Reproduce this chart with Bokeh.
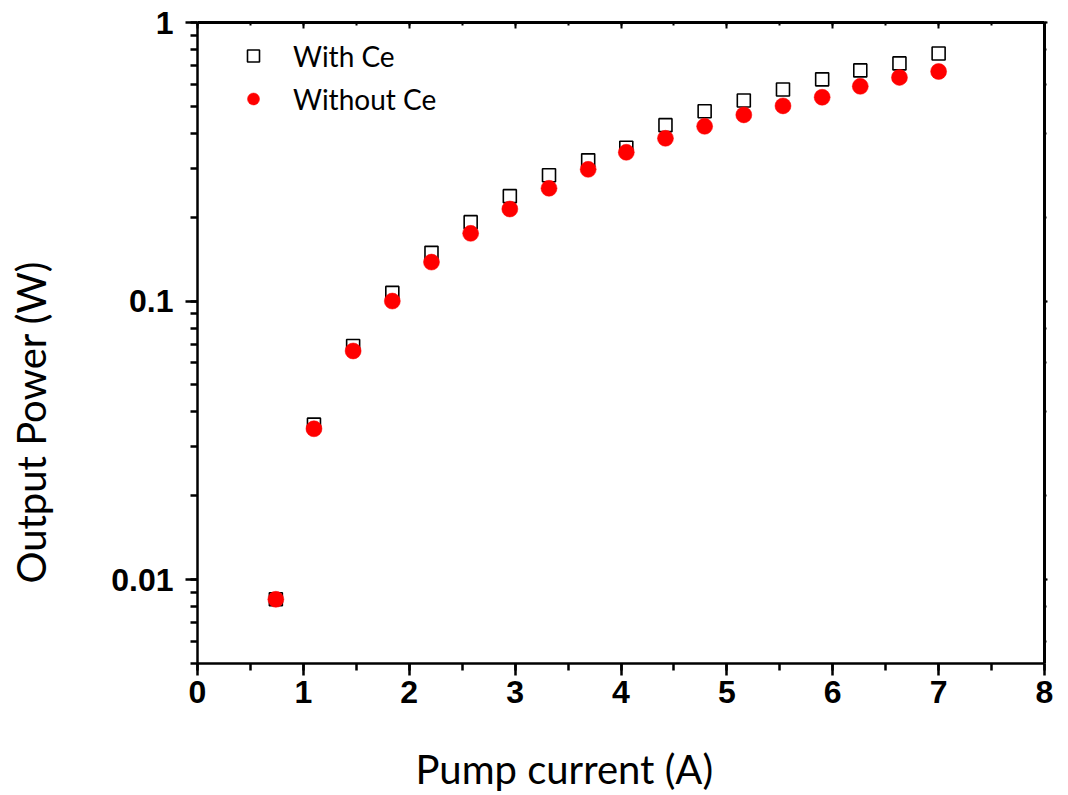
import numpy as np
from bokeh.plotting import figure
from bokeh.models import (LinearAxis, LogAxis, Range1d, Title, Legend, LegendItem, FixedTicker,
                          SingleIntervalTicker, CustomJSTickFormatter, ColumnDataSource)
from bokeh.embed import file_html
from bokeh.resources import INLINE

# ---- data ----
pump_current = [0.74, 1.10, 1.47, 1.84, 2.21, 2.58, 2.95, 3.32, 3.69, 4.05,
                4.42, 4.79, 5.16, 5.53, 5.90, 6.26, 6.63, 7.00]
power_with_ce = [0.0085, 0.036, 0.069, 0.107, 0.149, 0.192, 0.238, 0.283, 0.320, 0.355,
                 0.428, 0.480, 0.525, 0.575, 0.625, 0.673, 0.713, 0.774]
power_without_ce = [0.0085, 0.0348, 0.0662, 0.100, 0.138, 0.175, 0.214, 0.254, 0.297, 0.342,
                    0.384, 0.424, 0.466, 0.502, 0.539, 0.590, 0.635, 0.667]
x_label = "Pump current (A)"
y_label = "Output Power (W)"
series_names = ["With Ce", "Without Ce"]

LABEL_FONT = "Lato"
TICK_FONT = "Liberation Sans"

p = figure(width=1068, height=795, y_axis_type="log",
           x_range=Range1d(0, 8), y_range=Range1d(0.005, 1),
           output_backend="svg", toolbar_location=None,
           min_border_left=197, min_border_right=24,
           min_border_top=22, min_border_bottom=132)
p.outline_line_color = None
p.xgrid.visible = False
p.ygrid.visible = False
p.background_fill_color = "white"
p.border_fill_color = "white"

src = ColumnDataSource(dict(x=pump_current, a=power_with_ce, b=power_without_ce))
r1 = p.scatter("x", "a", source=src, marker="square", size=13,
               fill_color="white", line_color="black", line_width=1.6)
r2 = p.scatter("x", "b", source=src, marker="circle", size=16,
               fill_color="#ff0000", line_color="#ff0000", line_width=0.5)

# bottom axis
xa = p.xaxis[0]
xa.ticker = SingleIntervalTicker(interval=1, num_minor_ticks=2)
xa.axis_line_width = 2.5
xa.major_tick_line_width = 2.5
xa.minor_tick_line_width = 2.5
xa.major_tick_out = 12
xa.major_tick_in = 0
xa.minor_tick_out = 7
xa.minor_tick_in = 0
xa.major_label_text_font = TICK_FONT
xa.major_label_text_font_style = "bold"
xa.major_label_text_font_size = "32px"
xa.major_label_text_color = "black"
xa.major_label_standoff = 5

# left axis
ya = p.yaxis[0]
ya.formatter = CustomJSTickFormatter(code="return Number(tick.toPrecision(1)).toString();")
ya.axis_line_width = 2.5
ya.major_tick_line_width = 2.5
ya.minor_tick_line_width = 2.5
ya.major_tick_out = 12
ya.major_tick_in = 0
ya.minor_tick_out = 7
ya.minor_tick_in = 0
ya.major_label_text_font = TICK_FONT
ya.major_label_text_font_style = "bold"
ya.major_label_text_font_size = "32px"
ya.major_label_text_color = "black"
ya.major_label_standoff = 12

# top axis (ticks inward, no labels)
top = LinearAxis(ticker=SingleIntervalTicker(interval=1, num_minor_ticks=2))
top.axis_line_width = 3
top.major_tick_line_width = 2
top.minor_tick_line_width = 2
top.major_tick_in = 6
top.major_tick_out = 0
top.minor_tick_in = 3
top.minor_tick_out = 0
top.major_label_text_font_size = "0px"
top.major_label_text_alpha = 0
p.add_layout(top, "above")

# right axis
right = LogAxis()
right.axis_line_width = 3
right.major_tick_line_width = 2
right.minor_tick_line_width = 2
right.major_tick_in = 0
right.major_tick_out = 3
right.minor_tick_in = 0
right.minor_tick_out = 2
right.major_label_text_font_size = "0px"
right.major_label_text_alpha = 0
p.add_layout(right, "right")


def spacer(size, at):
    # an empty axis that only reserves room, so that the titles sit where the original has them
    return LinearAxis(ticker=FixedTicker(ticks=[at], minor_ticks=[]), axis_line_color="white",
                      formatter=CustomJSTickFormatter(code="return '';"),
                      major_tick_out=size, major_tick_in=0, minor_tick_out=0, minor_tick_in=0,
                      major_tick_line_color="white", minor_tick_line_color="white",
                      major_label_standoff=0, major_label_text_font_size="1px")


p.add_layout(spacer(39, 4), "below")
p.add_layout(spacer(52, 0.05), "left")

xt = Title(text=x_label, align="left", offset=218, vertical_align="top",
           text_font=LABEL_FONT, text_font_size="40px", text_font_style="normal",
           text_color="black", standoff=0)
p.add_layout(xt, "below")
yt = Title(text=y_label, align="left", offset=80, vertical_align="top",
           text_font=LABEL_FONT, text_font_size="40px", text_font_style="normal",
           text_color="black", standoff=0)
p.add_layout(yt, "left")

legend = Legend(items=[LegendItem(label=series_names[0], renderers=[r1]),
                       LegendItem(label=series_names[1], renderers=[r2])],
                location=(41, 543), padding=0, margin=0, spacing=0,
                glyph_width=30, glyph_height=43, label_standoff=25,
                label_text_font=LABEL_FONT, label_text_font_size="28px",
                label_text_color="black",
                border_line_alpha=0, background_fill_alpha=0)
p.add_layout(legend, "center")

open("out.html", "w").write(file_html(p, INLINE))
